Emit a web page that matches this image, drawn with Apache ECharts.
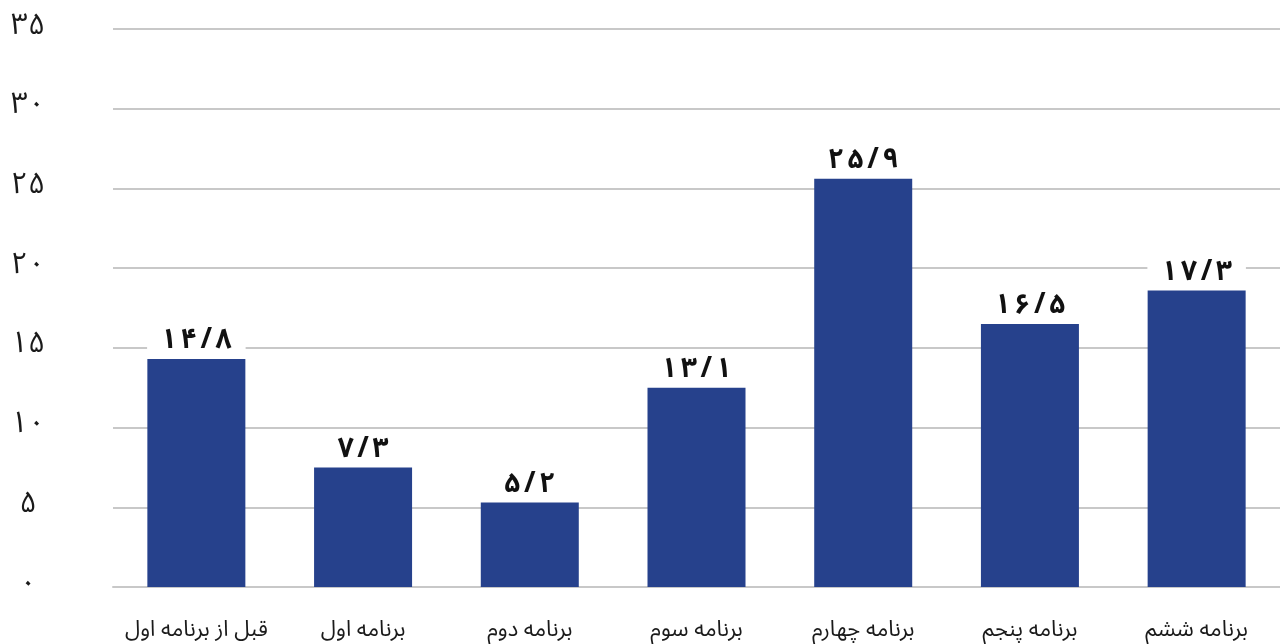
<!DOCTYPE html>
<html><head><meta charset="utf-8">
<script src="https://cdn.jsdelivr.net/npm/echarts@6/dist/echarts.min.js"></script>
<style>html,body{margin:0;padding:0;background:#fff}#c{width:1280px;height:644px}</style>
</head><body><div id="c"></div>
<script>
const categories = ['قبل از برنامه اول','برنامه اول','برنامه دوم','برنامه سوم','برنامه چهارم','برنامه پنجم','برنامه ششم'];
const barValues = [14.3, 7.5, 5.3, 12.5, 25.6, 16.5, 18.6];
const labelTexts = ['۱۴/۸','۷/۳','۵/۲','۱۳/۱','۲۵/۹','۱۶/۵','۱۷/۳'];
const yTicks = [0,5,10,15,20,25,30,35];

const fa = s => String(s).replace(/\d/g, d => '۰۱۲۳۴۵۶۷۸۹'[d]);
const font = '"Noto Sans Arabic", "Noto Naskh Arabic", "DejaVu Sans"';
const chart = echarts.init(document.getElementById('c'));
chart.setOption({
  animation:false,
  grid:{left:113,right:0,top:29,bottom:56},
  xAxis:{type:'category',data:categories,
    axisLine:{lineStyle:{color:'#c8c8c8',width:2}},axisTick:{show:false},
    axisLabel:{interval:0,color:'#1a1a1a',fontSize:22,fontFamily:font,margin:35}},
  yAxis:{type:'value',min:yTicks[0],max:yTicks[yTicks.length-1],interval:5,
    axisLine:{show:false},axisTick:{show:false},
    splitLine:{lineStyle:{color:'#c8c8c8',width:2}},
    axisLabel:{color:'#1a1a1a',fontSize:30,fontFamily:font,align:'center',margin:85,padding:[10,0,0,0],formatter:v=>fa(v)}},
  series:[{type:'bar',data:barValues,barWidth:98,
    itemStyle:{color:'#26418c'},
    label:{show:true,position:'top',distance:1,color:'#111',fontSize:28,fontWeight:'bold',fontFamily:font,
      backgroundColor:'#fff',padding:[0,14,0,14],
      formatter:p=>labelTexts[p.dataIndex].split('').join('\u2009')}}]
});
</script></body></html>
